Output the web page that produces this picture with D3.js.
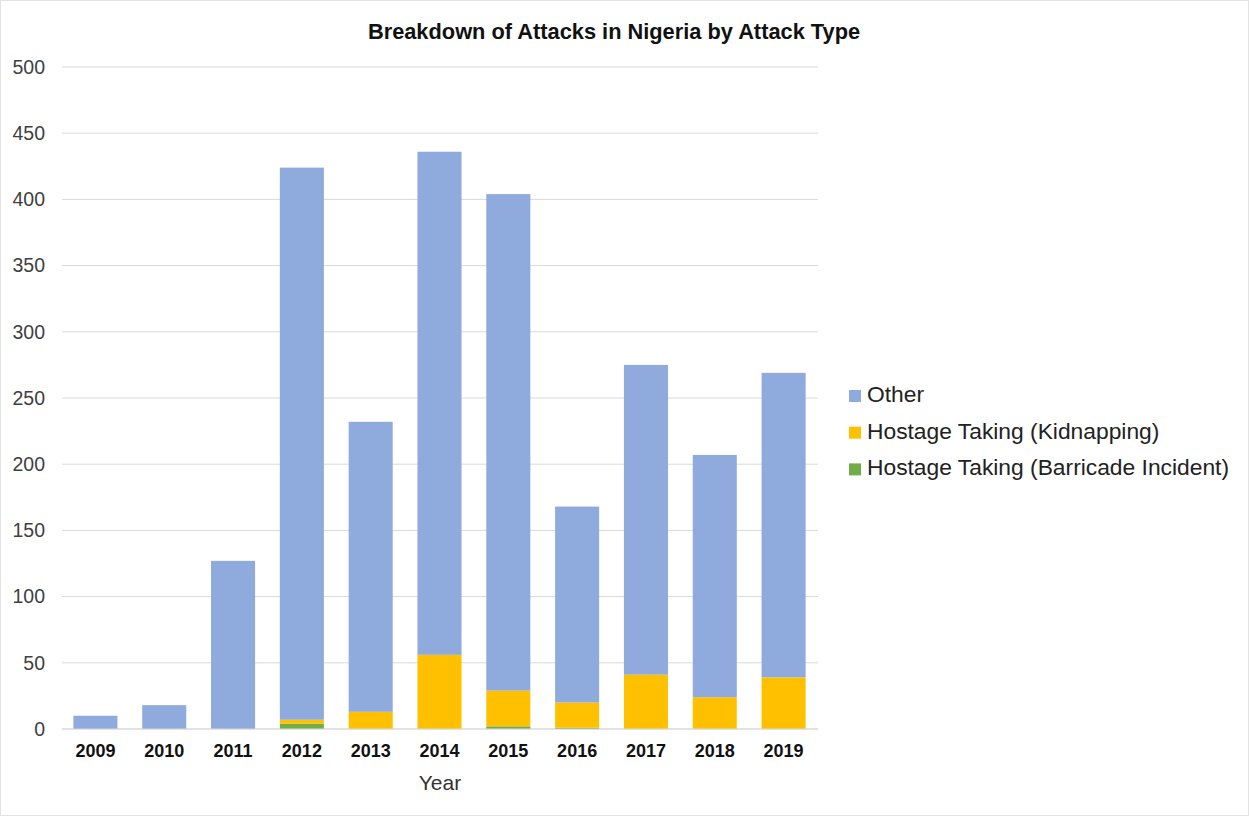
<!DOCTYPE html>
<html>
<head>
<meta charset="utf-8">
<script src="https://cdn.jsdelivr.net/npm/d3@7"></script>
<style>
body { margin: 0; background: #fff; }
svg { display: block; font-family: "Liberation Sans", Arial, sans-serif; }
</style>
</head>
<body>
<svg id="chart" width="1249" height="816"></svg>
<script>
const years = ["2009","2010","2011","2012","2013","2014","2015","2016","2017","2018","2019"];
const barricade = [0, 0, 0, 4, 0, 0, 2, 1, 0, 0, 0];
const kidnapping = [0, 0, 0, 3, 13, 56, 27, 19, 41, 24, 39];
const other = [10, 18, 127, 417, 219, 380, 375, 148, 234, 183, 230];
const seriesNames = ["Hostage Taking (Barricade Incident)", "Hostage Taking (Kidnapping)", "Other"];
const colors = ["#70ad47", "#ffc000", "#8faadc"];
const yTicks = [0, 50, 100, 150, 200, 250, 300, 350, 400, 450, 500];

const svg = d3.select("#chart");
svg.append("rect").attr("x", 0.5).attr("y", 0.5).attr("width", 1248).attr("height", 815)
  .attr("fill", "#fff").attr("stroke", "#e3e3e3");

const x = d3.scaleBand().domain(years).range([61, 818]).paddingInner(0.36).paddingOuter(0.18);
const y = d3.scaleLinear().domain([0, 500]).range([729, 67]);

// gridlines
svg.append("g").selectAll("line").data(yTicks).join("line")
  .attr("x1", 62).attr("x2", 818)
  .attr("y1", d => y(d)).attr("y2", d => y(d))
  .attr("stroke", "#d9d9d9").attr("stroke-width", 1);

// y axis labels
const yAxis = d3.axisLeft(y).tickValues(yTicks).tickSize(0).tickPadding(0);
const gy = svg.append("g").attr("transform", "translate(45,0)").call(yAxis);
gy.select(".domain").remove();
gy.selectAll("text").attr("font-size", 19.5).attr("fill", "#404040").attr("font-family", "Liberation Sans, Arial, sans-serif");

// stacked data
const rows = years.map((yr, i) => ({year: yr, b: barricade[i], k: kidnapping[i], o: other[i]}));
const stack = d3.stack().keys(["b", "k", "o"]);
const stacked = stack(rows);

svg.append("g").selectAll("g").data(stacked).join("g")
  .attr("fill", (d, i) => colors[i])
  .selectAll("rect").data(d => d).join("rect")
  .attr("x", d => x(d.data.year))
  .attr("width", x.bandwidth())
  .attr("y", d => y(d[1]))
  .attr("height", d => y(d[0]) - y(d[1]));

// baseline
svg.append("line").attr("x1", 62).attr("x2", 818).attr("y1", y(0)).attr("y2", y(0))
  .attr("stroke", "#d9d9d9");

// x axis labels
const xAxis = d3.axisBottom(x).tickSize(0).tickPadding(0);
const gx = svg.append("g").attr("transform", "translate(0,744)").call(xAxis);
gx.select(".domain").remove();
gx.selectAll("text").attr("font-size", 18).attr("font-weight", "bold").attr("fill", "#111")
  .attr("font-family", "Liberation Sans, Arial, sans-serif");

// axis title
svg.append("text").attr("x", 440).attr("y", 790).attr("text-anchor", "middle")
  .attr("font-size", 21).attr("fill", "#333").text("Year");

// chart title
svg.append("text").attr("x", 614).attr("y", 39).attr("text-anchor", "middle")
  .attr("font-size", 21.8).attr("font-weight", "bold").attr("fill", "#111")
  .text("Breakdown of Attacks in Nigeria by Attack Type");

// legend
const legendOrder = [2, 1, 0];
const lg = svg.append("g").selectAll("g").data(legendOrder).join("g")
  .attr("transform", (d, i) => `translate(849, ${402 + i * 36.7})`);
lg.append("rect").attr("x", 0).attr("y", -12).attr("width", 12).attr("height", 12)
  .attr("fill", d => colors[d]);
lg.append("text").attr("x", 18).attr("y", 0)
  .attr("font-size", 22.8).attr("fill", "#222").text(d => seriesNames[d]);
</script>
</body>
</html>
